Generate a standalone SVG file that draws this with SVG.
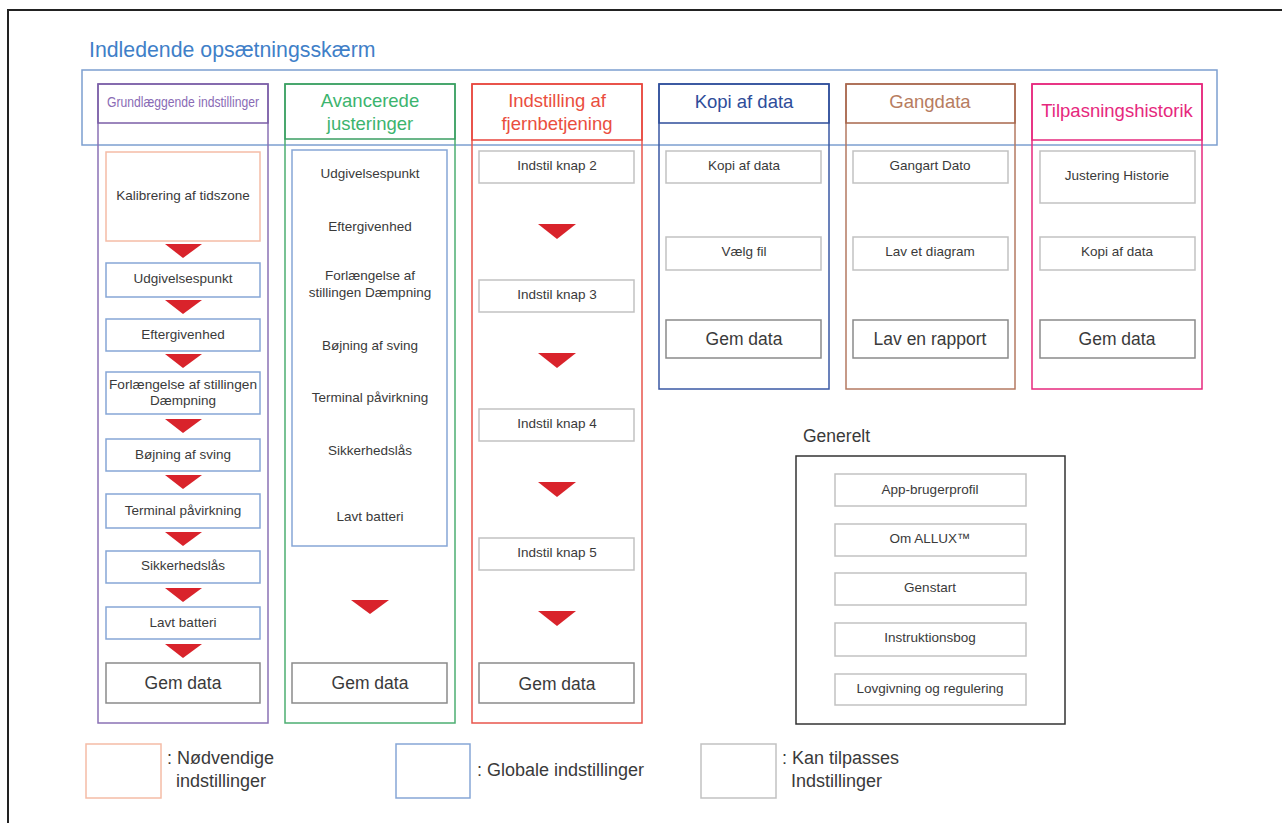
<svg xmlns="http://www.w3.org/2000/svg" width="1282" height="823" viewBox="0 0 1282 823">
<defs>
<style>
text{font-family:"Liberation Sans",Arial,sans-serif;text-anchor:middle;fill:#3a3a3a}
.it{font-size:13.5px}
.gem{font-size:17.5px}
.hd{font-size:18.5px}
.box{fill:#fff;stroke:#c2c2c2;stroke-width:1.5}
.gbox{fill:#fff;stroke:#8a8a8a;stroke-width:1.5}
.blu{fill:#fff;stroke:#86a6d6;stroke-width:1.5}
.org{fill:#fff;stroke:#f5bca6;stroke-width:1.5}
.col{fill:none;stroke-width:1.5}
.arr{fill:#d9232b}
.lg{font-size:18px;text-anchor:start}
</style>
</defs>
<rect x="0" y="0" width="1282" height="823" fill="#fff"/>
<path d="M8 823 V10 H1282" fill="none" stroke="#222" stroke-width="2"/>
<text x="89" y="57" style="font-size:21.3px;text-anchor:start;fill:#3f80c8">Indledende opsætningsskærm</text>
<rect id="initial-frame" x="82" y="70" width="1135" height="75" fill="none" stroke="#7c9fd0" stroke-width="1.5"/>

<g id="col-grundlaeggende">
<rect class="col" x="98" y="84" width="170" height="639" stroke="#8a72b5"/>
<rect class="col" x="98" y="84" width="170" height="39" stroke="#7b5ea7"/>
<text x="183" y="107" style="font-size:14.5px;fill:#8a6bb5" textLength="152" lengthAdjust="spacingAndGlyphs">Grundlæggende indstillinger</text>
</g>
<g id="n-kalibrering"><rect class="org" x="106" y="152" width="154" height="89"/><text class="it" x="183" y="200">Kalibrering af tidszone</text></g>
<g id="n-udgivelsespunkt1"><rect class="blu" x="106" y="263" width="154" height="34"/><text class="it" x="183" y="283">Udgivelsespunkt</text></g>
<g id="n-eftergivenhed1"><rect class="blu" x="106" y="319" width="154" height="32"/><text class="it" x="183" y="339">Eftergivenhed</text></g>
<g id="n-forlaengelse1"><rect class="blu" x="106" y="372" width="154" height="42"/><text class="it" x="183" y="389" textLength="148" lengthAdjust="spacingAndGlyphs">Forlængelse af stillingen</text><text class="it" x="183" y="405">Dæmpning</text></g>
<g id="n-bojning1"><rect class="blu" x="106" y="439" width="154" height="32"/><text class="it" x="183" y="459">Bøjning af sving</text></g>
<g id="n-terminal1"><rect class="blu" x="106" y="494" width="154" height="34"/><text class="it" x="183" y="515">Terminal påvirkning</text></g>
<g id="n-sikkerhed1"><rect class="blu" x="106" y="551" width="154" height="32"/><text class="it" x="183" y="570">Sikkerhedslås</text></g>
<g id="n-lavt1"><rect class="blu" x="106" y="607" width="154" height="32"/><text class="it" x="183" y="627">Lavt batteri</text></g>
<g id="n-gem1"><rect class="gbox" x="106" y="663" width="154" height="40"/><text class="gem" x="183" y="689">Gem data</text></g>

<g id="col-avancerede">
<rect class="col" x="285" y="84" width="170" height="639" stroke="#4cae72"/>
<rect class="col" x="285" y="84" width="170" height="55" stroke="#3a9e62"/>
<text class="hd" x="370" y="107" style="fill:#3cb46e">Avancerede</text>
<text class="hd" x="370" y="130" style="fill:#3cb46e">justeringer</text>
</g>
<g id="n-avancerede-list">
<rect class="blu" x="292" y="150" width="155" height="396"/>
<text class="it" x="370" y="178">Udgivelsespunkt</text>
<text class="it" x="370" y="231">Eftergivenhed</text>
<text class="it" x="370" y="280">Forlængelse af</text>
<text class="it" x="370" y="297">stillingen Dæmpning</text>
<text class="it" x="370" y="350">Bøjning af sving</text>
<text class="it" x="370" y="402">Terminal påvirkning</text>
<text class="it" x="370" y="455">Sikkerhedslås</text>
<text class="it" x="370" y="521">Lavt batteri</text>
</g>
<g id="n-gem2"><rect class="gbox" x="292" y="663" width="155" height="40"/><text class="gem" x="370" y="689">Gem data</text></g>

<g id="col-fjernbetjening">
<rect class="col" x="472" y="84" width="170" height="639" stroke="#e8554c"/>
<rect class="col" x="472" y="84" width="170" height="56" stroke="#e8453c"/>
<text class="hd" x="557" y="107" style="fill:#ea4e3e">Indstilling af</text>
<text class="hd" x="557" y="130" style="fill:#ea4e3e">fjernbetjening</text>
</g>
<g id="n-knap2"><rect class="box" x="479" y="151" width="155" height="32"/><text class="it" x="557" y="170">Indstil knap 2</text></g>
<g id="n-knap3"><rect class="box" x="479" y="280" width="155" height="32"/><text class="it" x="557" y="299">Indstil knap 3</text></g>
<g id="n-knap4"><rect class="box" x="479" y="409" width="155" height="32"/><text class="it" x="557" y="428">Indstil knap 4</text></g>
<g id="n-knap5"><rect class="box" x="479" y="538" width="155" height="32"/><text class="it" x="557" y="557">Indstil knap 5</text></g>
<g id="n-gem3"><rect class="gbox" x="479" y="663" width="155" height="40"/><text class="gem" x="557" y="690">Gem data</text></g>

<g id="col-kopi">
<rect class="col" x="659" y="84" width="170" height="305" stroke="#3a58a4"/>
<rect class="col" x="659" y="84" width="170" height="39" stroke="#2e4d9a"/>
<text class="hd" x="744" y="108" style="fill:#2e4d9a">Kopi af data</text>
</g>
<g id="n-kopi4"><rect class="box" x="666" y="151" width="155" height="32"/><text class="it" x="744" y="170">Kopi af data</text></g>
<g id="n-vaelg"><rect class="box" x="666" y="237" width="155" height="33"/><text class="it" x="744" y="256">Vælg fil</text></g>
<g id="n-gem4"><rect class="gbox" x="666" y="320" width="155" height="38"/><text class="gem" x="744" y="345">Gem data</text></g>

<g id="col-gangdata">
<rect class="col" x="846" y="84" width="169" height="305" stroke="#b47a62"/>
<rect class="col" x="846" y="84" width="169" height="39" stroke="#a8674c"/>
<text class="hd" x="930" y="108" style="fill:#b77c60">Gangdata</text>
</g>
<g id="n-gangart"><rect class="box" x="853" y="151" width="155" height="32"/><text class="it" x="930" y="170">Gangart Dato</text></g>
<g id="n-diagram"><rect class="box" x="853" y="237" width="155" height="33"/><text class="it" x="930" y="256">Lav et diagram</text></g>
<g id="n-rapport"><rect class="gbox" x="853" y="320" width="155" height="38"/><text class="gem" x="930" y="345">Lav en rapport</text></g>

<g id="col-tilpasning">
<rect class="col" x="1032" y="84" width="170" height="305" stroke="#e6287d"/>
<rect class="col" x="1032" y="84" width="170" height="56" stroke="#e6287d"/>
<text class="hd" x="1117" y="117" style="fill:#e6287d">Tilpasningshistorik</text>
</g>
<g id="n-justering"><rect class="box" x="1040" y="151" width="155" height="52"/><text class="it" x="1117" y="180">Justering Historie</text></g>
<g id="n-kopi6"><rect class="box" x="1040" y="237" width="155" height="33"/><text class="it" x="1117" y="256">Kopi af data</text></g>
<g id="n-gem6"><rect class="gbox" x="1040" y="320" width="155" height="38"/><text class="gem" x="1117" y="345">Gem data</text></g>

<g id="generelt">
<text x="803" y="442" style="font-size:17.5px;text-anchor:start">Generelt</text>
<rect x="796" y="456" width="269" height="268" fill="none" stroke="#333" stroke-width="1.5"/>
</g>
<g id="n-app"><rect class="box" x="835" y="474" width="191" height="32"/><text class="it" x="930" y="494">App-brugerprofil</text></g>
<g id="n-allux"><rect class="box" x="835" y="524" width="191" height="32"/><text class="it" x="930" y="543">Om ALLUX™</text></g>
<g id="n-genstart"><rect class="box" x="835" y="573" width="191" height="32"/><text class="it" x="930" y="592">Genstart</text></g>
<g id="n-instruktion"><rect class="box" x="835" y="623" width="191" height="33"/><text class="it" x="930" y="642">Instruktionsbog</text></g>
<g id="n-lovgivning"><rect class="box" x="835" y="674" width="191" height="31"/><text class="it" x="930" y="693">Lovgivning og regulering</text></g>

<g id="connectors">
<polygon class="arr" points="165,244 202,244 183,258"/>
<polygon class="arr" points="165,300 202,300 183,314"/>
<polygon class="arr" points="165,354 202,354 183,368"/>
<polygon class="arr" points="165,419 202,419 183,433"/>
<polygon class="arr" points="165,475 202,475 183,489"/>
<polygon class="arr" points="165,532 202,532 183,546"/>
<polygon class="arr" points="165,588 202,588 183,602"/>
<polygon class="arr" points="165,644 202,644 183,658"/>
<polygon class="arr" points="351,600 389,600 370,614"/>
<polygon class="arr" points="538,224 576,224 557,239"/>
<polygon class="arr" points="538,353 576,353 557,368"/>
<polygon class="arr" points="538,482 576,482 557,497"/>
<polygon class="arr" points="538,611 576,611 557,626"/>
</g>

<g id="legend">
<rect x="86" y="744" width="75" height="54" fill="#fff" stroke="#f5bca6" stroke-width="1.5"/>
<text class="lg" x="167" y="764">: Nødvendige</text>
<text class="lg" x="176" y="787">indstillinger</text>
<rect x="396" y="744" width="74" height="54" fill="#fff" stroke="#86a6d6" stroke-width="1.5"/>
<text class="lg" x="477" y="776">: Globale indstillinger</text>
<rect x="701" y="744" width="75" height="54" fill="#fff" stroke="#c2c2c2" stroke-width="1.5"/>
<text class="lg" x="782" y="764">: Kan tilpasses</text>
<text class="lg" x="791" y="787">Indstillinger</text>
</g>
</svg>
